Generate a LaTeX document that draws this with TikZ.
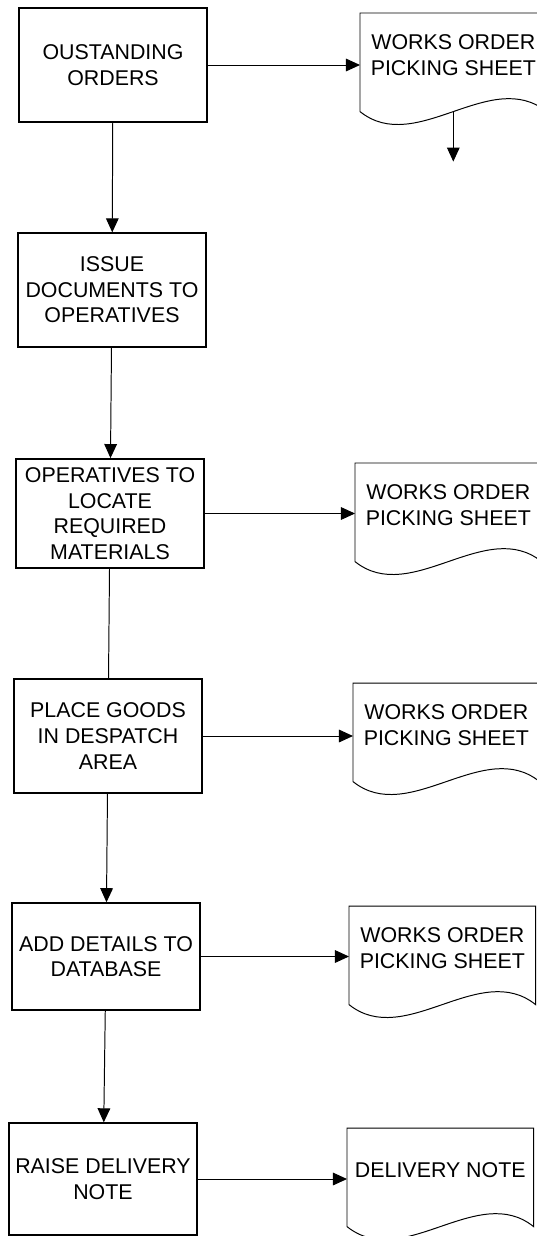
\documentclass[tikz,border=0pt]{standalone}
\usepackage{fontspec}
\setmainfont{Liberation Sans}
\usetikzlibrary{arrows.meta,positioning,calc}

\tikzset{
  procbox/.style={draw, line width=0.9pt, minimum width=4.7cm, minimum height=2.85cm,
    align=center, inner sep=2pt, font=\fontsize{15.2}{18.2}\selectfont},
  heavybox/.style={procbox, line width=1.4pt},
  docnode/.style={anchor=north west, minimum width=4.65cm, minimum height=2.1cm,
    align=center, inner sep=0pt, font=\fontsize{15.2}{18.2}\selectfont},
  docline/.style={line width=0.7pt},
  flow/.style={line width=0.7pt, -{Triangle[length=10pt,width=9pt]}},
}

% sheet outline with the wavy bottom edge
\newcommand{\docoutline}[1]{%
  \draw[docline] ($(#1.south west)+(0,-0.35cm)$) -- (#1.north west) -- (#1.north east)
    -- ($(#1.south east)+(0,-0.35cm)$)
    .. controls ($(#1.south east)+(-1.4cm,0.77cm)$) and ($(#1.south west)+(1.4cm,-1.47cm)$)
    .. ($(#1.south west)+(0,-0.35cm)$);
}

\begin{document}
\begin{tikzpicture}[x=0.025cm,y=-0.025cm]
\useasboundingbox (0,0) rectangle (537,1236);
\clip (0,0) rectangle (537,1236);

% process boxes
\node[heavybox] (outst) at (113,65) {OUSTANDING\\ORDERS};
\node[procbox] (issue) at (112,290) {ISSUE\\DOCUMENTS TO\\OPERATIVES};
\node[heavybox, minimum height=2.72cm] (locate) at (110,513.5) {OPERATIVES TO\\LOCATE\\REQUIRED\\MATERIALS};
\node[procbox, line width=1.1pt] (place) at (108,736) {PLACE GOODS\\IN DESPATCH\\AREA};
\node[procbox, minimum height=2.68cm] (adddb) at (106,956.5) {ADD DETAILS TO\\DATABASE};
\node[procbox, minimum height=2.8cm] (raise) at (103,1179) {RAISE DELIVERY\\NOTE};

% documents
\node[docnode] (sheet1) at (360,13) {WORKS ORDER\\PICKING SHEET};
\node[docnode] (sheet3) at (355,463) {WORKS ORDER\\PICKING SHEET};
\node[docnode] (sheet4) at (353,683) {WORKS ORDER\\PICKING SHEET};
\node[docnode] (sheet5) at (349,906) {WORKS ORDER\\PICKING SHEET};
\node[docnode] (delnote) at (347,1128) {DELIVERY NOTE};
\foreach \d in {sheet1,sheet3,sheet4,sheet5,delnote} {\docoutline{\d}}

\coordinate (sheet1tail) at ($(sheet1.south)+(0,-0.35cm)$);
\coordinate[below=1.25cm of sheet1tail] (sheet1end);

% flow down the left column
\draw[flow] (outst) -- (issue);
\draw[flow] (issue) -- (locate);
\draw[line width=0.7pt] (locate) -- (place);
\draw[flow] (place) -- (adddb);
\draw[flow] (adddb) -- (raise);

% paperwork produced
\draw[flow] (outst.east) -- (outst.east -| sheet1.west);
\draw[flow] (locate.east) -- (locate.east -| sheet3.west);
\draw[flow] (place.east) -- (place.east -| sheet4.west);
\draw[flow] (adddb.east) -- (adddb.east -| sheet5.west);
\draw[flow] (raise.east) -- (raise.east -| delnote.west);
\draw[flow] (sheet1tail) -- (sheet1end);
\end{tikzpicture}
\end{document}
